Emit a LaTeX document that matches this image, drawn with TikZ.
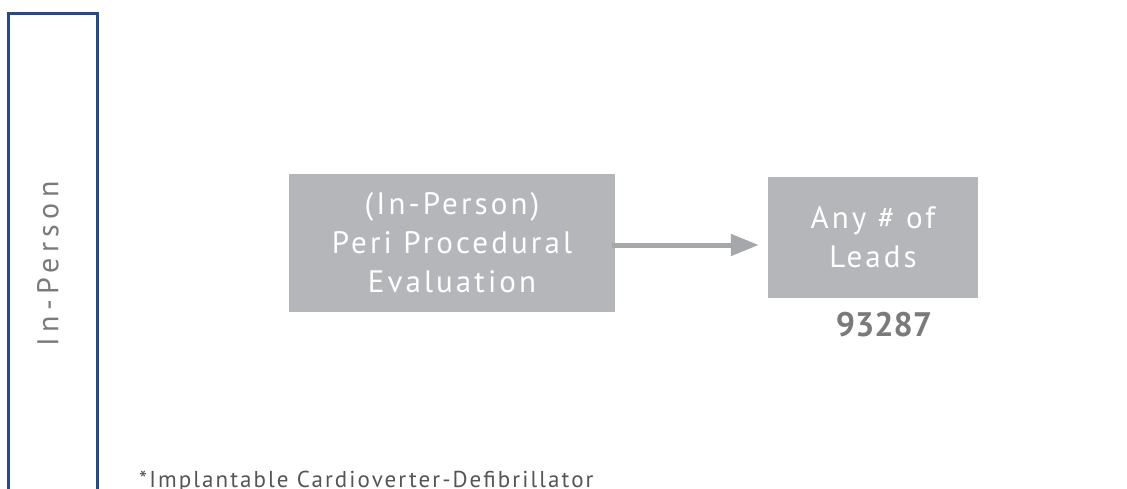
\documentclass[tikz,border=0pt]{standalone}
\usepackage{fontspec}
\setmainfont{PT Sans}
\newfontfamily\trackfont[LetterSpace=10]{PT Sans}
\newfontfamily\notefont[LetterSpace=9]{PT Sans}
\newfontfamily\widefont[LetterSpace=18]{PT Sans}
\usepackage{xcolor}
\usetikzlibrary{arrows.meta}
\definecolor{framblue}{HTML}{2B4A7C}
\definecolor{boxgray}{HTML}{B5B6B9}
\definecolor{arrowgray}{HTML}{A6A7AA}
\definecolor{codegray}{HTML}{7A7A7A}
\definecolor{notegray}{HTML}{555555}
\tikzset{graybox/.style={fill=boxgray,draw=none,text=white,align=center,
   inner sep=0pt,font=\trackfont\fontsize{31}{39}\selectfont},
 flowarrow/.style={draw=arrowgray,line width=5pt,
   -{Triangle[length=28pt,width=21pt]}},
 }

\begin{document}
\begin{tikzpicture}[x=1pt,y=-1pt]
        \useasboundingbox (0,0) rectangle (1127,489);
        \draw[framblue, line width=2.7pt] (8.4,495) |- (97.6,13.4) -- (97.6,495);
        \node[rotate=90, text=codegray, font=\widefont\fontsize{30}{36}\selectfont] (mode) at (48,264) {In-Person};
        \node[graybox, minimum width=326pt, minimum height=138pt] (eval) at (452,243)
            {(In-Person)\\Peri Procedural\\Evaluation};
        \node[graybox, minimum width=210pt, minimum height=121pt] (leads) at (873,237.5)
            {Any \# of\\Leads};
        \draw[flowarrow, shorten >=9pt, shorten <=-3pt] (eval.east |- 0,245) -- (leads.west |- 0,245);
        \node[text=codegray, font=\bfseries\fontsize{34}{40}\selectfont, anchor=north] (code) at (884,309) {93287};
        \node[text=notegray, font=\notefont\fontsize{23}{27}\selectfont, anchor=base west, inner sep=0pt] (note) at (139,487)
            {*Implantable Cardioverter-Defibrillator};
\end{tikzpicture}
\end{document}
